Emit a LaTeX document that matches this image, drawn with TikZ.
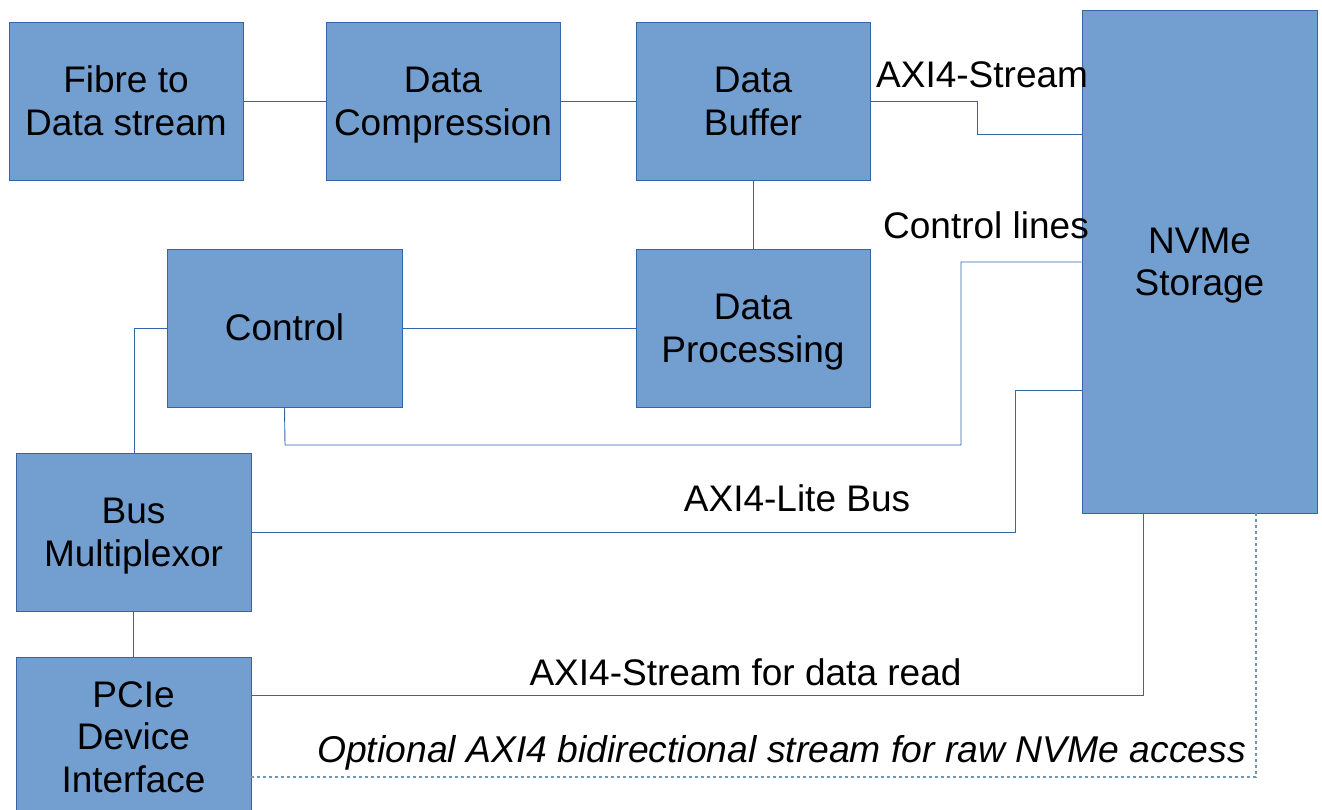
\documentclass[tikz,border=0pt]{standalone}
\usepackage{fontspec}
\setmainfont{Liberation Sans}
\definecolor{boxfill}{HTML}{729FCF}
\definecolor{boxline}{HTML}{3465A4}
\newcommand\lnstrut{\rule[-8pt]{0pt}{41.5pt}}
\begin{document}
\begin{tikzpicture}[x=1pt,y=-1pt,
  blk/.style={draw=boxline, fill=boxfill, line width=0.9pt, inner sep=0pt, align=center,
    font=\fontsize{37}{42.5}\selectfont, minimum width=234pt, minimum height=158pt},
  conn/.style={draw=boxline, line width=0.9pt},
  optconn/.style={draw=boxline!70, line width=1.1pt, dash pattern=on 3pt off 3pt},
  lbl/.style={inner sep=0pt, font=\fontsize{37}{42.5}\selectfont},
  ilbl/.style={inner sep=0pt, font=\fontsize{37.3}{42.5}\selectfont\itshape}]
\useasboundingbox (0,0) rectangle (1322,809);
\clip (0,0) rectangle (1322,809);
% boxes
\node[blk] (fib) at (126,101) {\lnstrut Fibre to\\\lnstrut Data stream};
\node[blk] (cmp) at (443,101) {\lnstrut Data\\\lnstrut Compression};
\node[blk] (buf) at (753,101) {\lnstrut Data\\\lnstrut Buffer};
\node[blk, minimum width=235pt, minimum height=503pt] (nvme) at (1199.5,261.5) {\lnstrut NVMe\\\lnstrut Storage};
\node[blk, minimum width=235pt] (ctl) at (284.5,328) {\lnstrut Control};
\node[blk] (proc) at (753,328) {\lnstrut Data\\\lnstrut Processing};
\node[blk, minimum width=235pt] (mux) at (133.5,532) {\lnstrut Bus\\\lnstrut Multiplexor};
\node[blk, minimum width=235pt, minimum height=160pt] (pcie) at (133.5,737) {\lnstrut PCIe\\\lnstrut Device\\\lnstrut Interface};
% coordinates
\coordinate (s1) at (977,101);
\coordinate (s2) at (977,134);
\coordinate (c1) at (285,445);
\coordinate (c2) at (961,445);
\coordinate (c3) at (961,262);
\coordinate (l1) at (1015,532);
\coordinate (l2) at (1015,390);
\coordinate (m1) at (134,328);
\coordinate (r1) at (1143,695);
\coordinate (o1) at (1256,777);
% connectors
\draw[conn] (fib.east) -- (cmp.west);
\draw[conn] (cmp.east) -- (buf.west);
\draw[conn] (buf.east) -- (s1) -- (s2) -- (s2 -| nvme.west);
\draw[conn] (buf.south) -- (proc.north);
\draw[conn] (ctl.east) -- (proc.west);
\draw[conn] (ctl.south) -- (c1) -- (c2) -- (c3) -- (c3 -| nvme.west);
\draw[conn] (mux.east) -- (l1) -- (l2) -- (l2 -| nvme.west);
\draw[conn] (mux.north -| m1) -- (m1) -- (ctl.west);
\draw[conn] (mux.south) -- (pcie.north);
\draw[conn] (r1 -| pcie.east) -- (r1) -- (r1 |- nvme.south);
\draw[optconn] (o1 -| pcie.east) -- (o1) -- (o1 |- nvme.south);
% labels
\node[lbl, anchor=base west] (t1) at (876,87) {AXI4-Stream};
\node[lbl, anchor=base west] (t2) at (883,238) {Control lines};
\node[lbl, anchor=base] (t3) at (797,511) {AXI4-Lite Bus};
\node[lbl, anchor=base] (t4) at (745.5,685) {AXI4-Stream for data read};
\node[ilbl, anchor=base west] (t5) at (317,762) {Optional AXI4 bidirectional stream for raw NVMe access};
\end{tikzpicture}
\end{document}
